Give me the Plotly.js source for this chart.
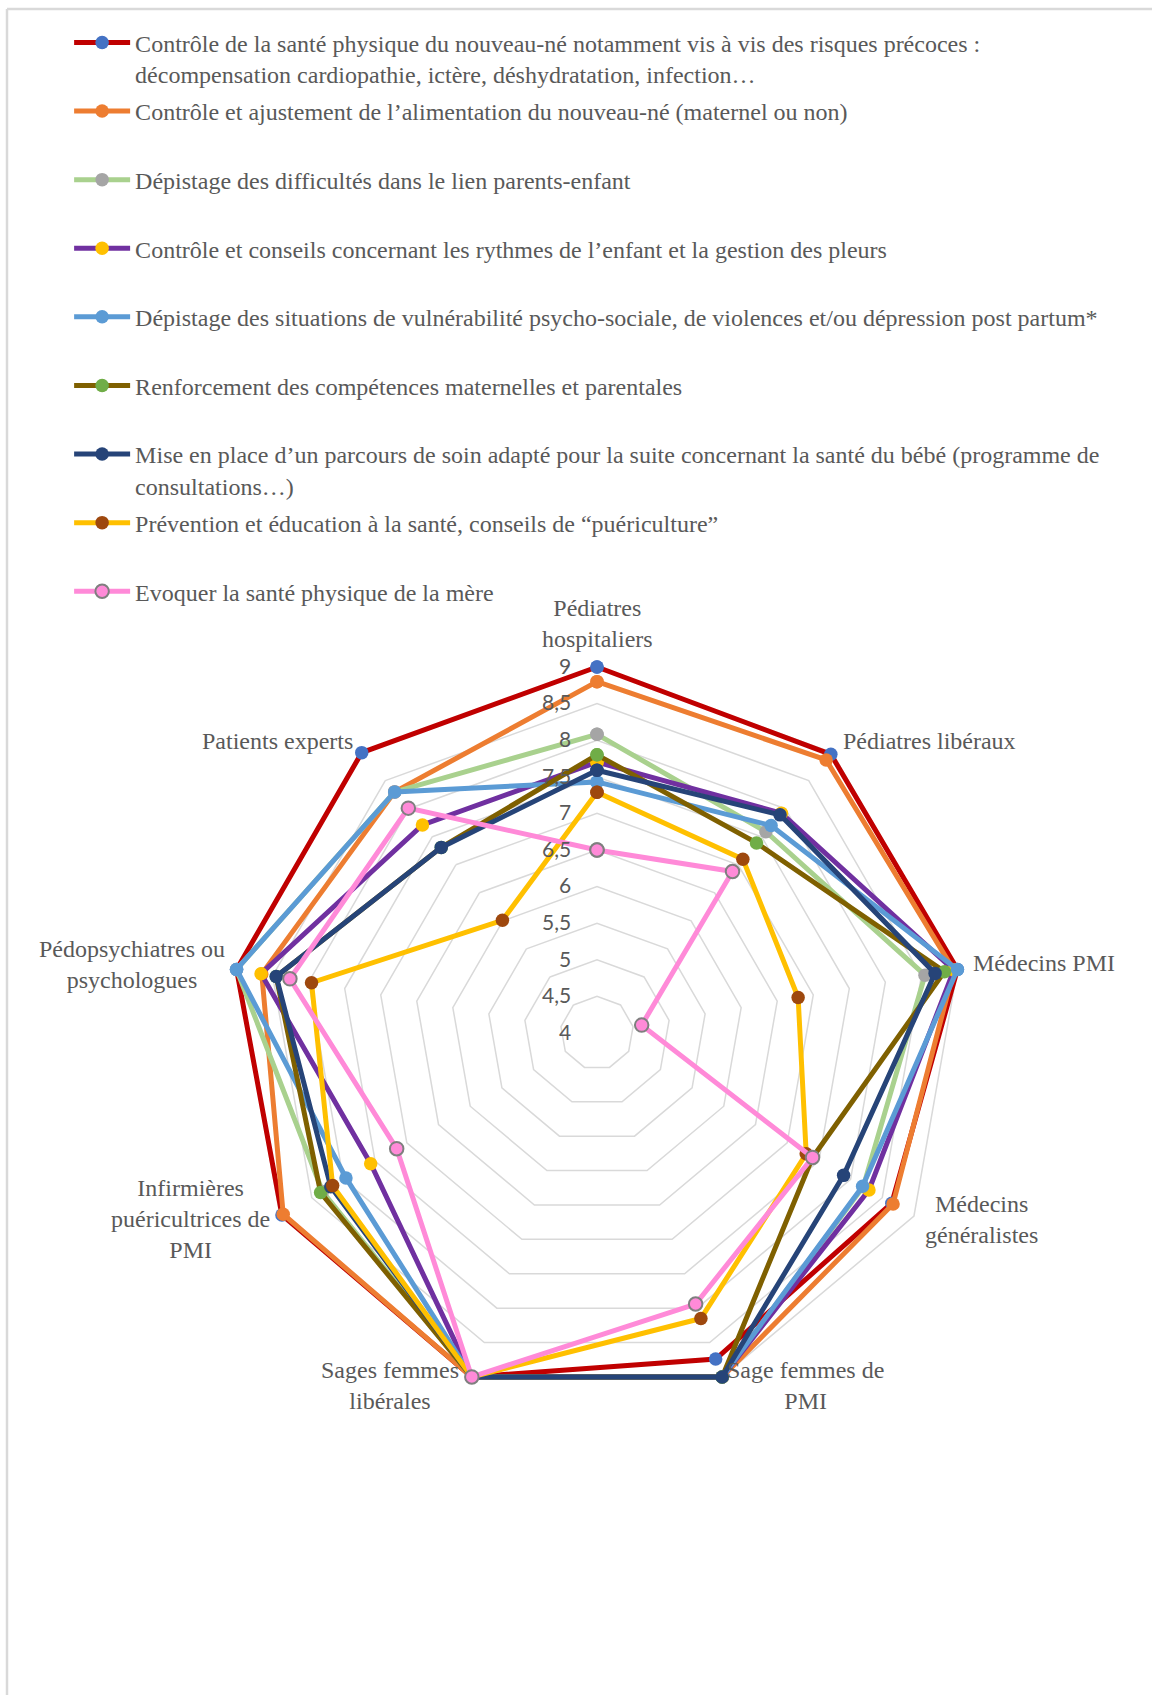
<!DOCTYPE html>
<html>
<head>
<meta charset="utf-8">
<script src="https://cdn.plot.ly/plotly-3.0.1.min.js"></script>
<style>html,body{margin:0;padding:0;background:#fff;}#chart{width:1152px;height:1695px;}</style>
</head>
<body>
<div id="chart"></div>
<script>
// Categories (clockwise from top)
var categories = [
  "Pédiatres hospitaliers",
  "Pédiatres libéraux",
  "Médecins PMI",
  "Médecins généralistes",
  "Sage femmes de PMI",
  "Sages femmes libérales",
  "Infirmières puéricultrices de PMI",
  "Pédopsychiatres ou psychologues",
  "Patients experts"
];
var categoryLabels = [
  "Pédiatres<br>hospitaliers",
  "Pédiatres libéraux",
  "Médecins PMI",
  "Médecins<br>généralistes",
  "Sage femmes de<br>PMI",
  "Sages femmes<br>libérales",
  "Infirmières<br>puéricultrices de<br>PMI",
  "Pédopsychiatres ou<br>psychologues",
  "Patients experts"
];

// Series names
var seriesNames = [
  "Contrôle de la santé physique du nouveau-né notamment vis à vis des risques précoces :<br>décompensation cardiopathie, ictère, déshydratation, infection…",
  "Contrôle et ajustement de l’alimentation du nouveau-né (maternel ou non)",
  "Dépistage des difficultés dans le lien parents-enfant",
  "Contrôle et conseils concernant les rythmes de l’enfant et la gestion des pleurs",
  "Dépistage des situations de vulnérabilité psycho-sociale, de violences et/ou dépression post partum*",
  "Renforcement des compétences maternelles et parentales",
  "Mise en place d’un parcours de soin adapté pour la suite concernant la santé du bébé (programme de<br>consultations…)",
  "Prévention et éducation à la santé, conseils de “puériculture”",
  "Evoquer la santé physique de la mère"
];

// Series values (same order as categories)
var santePhysique   = [9.00, 8.97, 9.00, 8.65, 8.74, 9.00, 8.97, 9.00, 9.00];
var alimentation    = [8.80, 8.87, 8.95, 8.67, 9.00, 9.00, 8.95, 8.65, 8.30];
var lienParents     = [8.08, 7.59, 8.55, 8.20, 9.00, 9.00, 8.33, 9.00, 8.30];
var rythmesPleurs   = [7.70, 7.92, 8.95, 8.29, 9.00, 9.00, 7.57, 8.66, 7.71];
var vulnerabilite   = [7.43, 7.70, 9.00, 8.19, 9.00, 9.00, 7.96, 9.00, 8.30];
var competences     = [7.80, 7.39, 8.82, 7.40, 9.00, 9.00, 8.36, 8.45, 7.31];
var parcoursSoin    = [7.59, 7.89, 8.69, 7.89, 9.00, 9.00, 8.20, 8.45, 7.31];
var prevention      = [7.29, 7.10, 6.79, 7.30, 8.15, 9.00, 8.17, 7.96, 6.01];
var santeMere       = [6.50, 6.88, 4.62, 7.40, 7.94, 9.00, 7.16, 8.26, 8.01];

var radialTicks = [4, 4.5, 5, 5.5, 6, 6.5, 7, 7.5, 8, 8.5, 9];

var seriesValues = [santePhysique, alimentation, lienParents, rythmesPleurs,
  vulnerabilite, competences, parcoursSoin, prevention, santeMere];

// Styles
var lineColors   = ["#C00000", "#ED7D31", "#A9D18E", "#7030A0", "#5B9BD5", "#7F6000", "#264478", "#FFC000", "#FF8AD8"];
var markerColors = ["#4472C4", "#ED7D31", "#A5A5A5", "#FFC000", "#5B9BD5", "#70AD47", "#264478", "#9E480E", "#FF8AD8"];

var traces = seriesValues.map(function (vals, i) {
  var name = seriesNames[i];
  if (name.indexOf("<br>") < 0) name = name + "<br> ";
  return {
    type: "scatterpolar",
    mode: "lines+markers",
    name: name,
    legendgroup: "g" + i,
    cliponaxis: false,
    theta: categories.concat([categories[0]]),
    r: vals.concat([vals[0]]),
    line: { color: lineColors[i], width: 5 },
    marker: {
      color: markerColors[i],
      size: 13.5,
      line: { color: i === 8 ? "#7F7F7F" : markerColors[i], width: i === 8 ? 2 : 0 }
    },
    hoverinfo: "name+r+theta"
  };
});

// Category label placement (paper px), centred text blocks around the chart
var W = 1152, H = 1695;
var labelPlacement = [
  { x: 597.6, y: 623.5, xa: "center" },
  { x: 840.8, y: 741.3, xa: "left" },
  { x: 970.5, y: 962.9, xa: "left" },
  { x: 981.3, y: 1219.0, xa: "center" },
  { x: 805.0, y: 1385.0, xa: "center" },
  { x: 390.1, y: 1385.0, xa: "center" },
  { x: 190.2, y: 1219.0, xa: "center" },
  { x: 131.8, y: 964.5, xa: "center" },
  { x: 354.5, y: 741.3, xa: "right" }
];
var annotations = categoryLabels.map(function (txt, i) {
  var p = labelPlacement[i];
  return {
    xref: "paper", yref: "paper",
    x: p.x / W, y: 1 - p.y / H,
    xanchor: p.xa, yanchor: "middle", align: "center",
    text: txt, showarrow: false,
    font: { family: "Liberation Serif", size: 24, color: "#595959" }
  };
});

// Polar geometry: centre (597,1033) px, 73.2 px per unit; range extended a bit so
// thick lines lying on the outer ring are not clipped.
var rMax = 9.05;
var pxPerUnit = 73.2;
var cx = 597, cyFromBottom = H - 1033;
var Rpx = (rMax - 4) * pxPerUnit;

var layout = {
  width: W,
  height: H,
  margin: { l: 0, r: 0, t: 0, b: 0 },
  paper_bgcolor: "#ffffff",
  separators: ", ",
  showlegend: true,
  legend: {
    x: 0.060, xanchor: "left",
    y: 0.9880, yanchor: "top",
    valign: "top",
    traceorder: "grouped",
    tracegroupgap: 3.2,
    itemwidth: 56,
    font: { family: "Liberation Serif", size: 24, color: "#595959" },
    bgcolor: "rgba(0,0,0,0)"
  },
  polar: {
    domain: {
      x: [(cx - Rpx) / W, (cx + Rpx) / W],
      y: [(cyFromBottom - Rpx) / H, (cyFromBottom + Rpx) / H]
    },
    bgcolor: "#ffffff",
    gridshape: "linear",
    angularaxis: {
      type: "category",
      direction: "clockwise",
      rotation: 90,
      showticklabels: false,
      showgrid: false,
      showline: false,
      ticks: ""
    },
    radialaxis: {
      range: [4, rMax],
      tickmode: "array",
      tickvals: radialTicks,
      angle: 90,
      side: "counterclockwise",
      showline: false,
      gridcolor: "#D9D9D9",
      gridwidth: 1.5,
      ticks: "outside",
      ticklen: 18,
      tickcolor: "rgba(0,0,0,0)",
      tickangle: 90,
      tickfont: { family: "Lato", size: 21, color: "#595959" }
    }
  },
  annotations: annotations,
  shapes: [
    { type: "line", xref: "paper", yref: "paper", x0: 7 / W, x1: 1, y0: 1 - 9 / H, y1: 1 - 9 / H, line: { color: "#D9D9D9", width: 2.5 } },
    { type: "line", xref: "paper", yref: "paper", x0: 7 / W, x1: 7 / W, y0: 0, y1: 1 - 9 / H, line: { color: "#D9D9D9", width: 2.5 } }
  ]
};

Plotly.newPlot("chart", traces, layout, { displayModeBar: false, staticPlot: true });
</script>
</body>
</html>
